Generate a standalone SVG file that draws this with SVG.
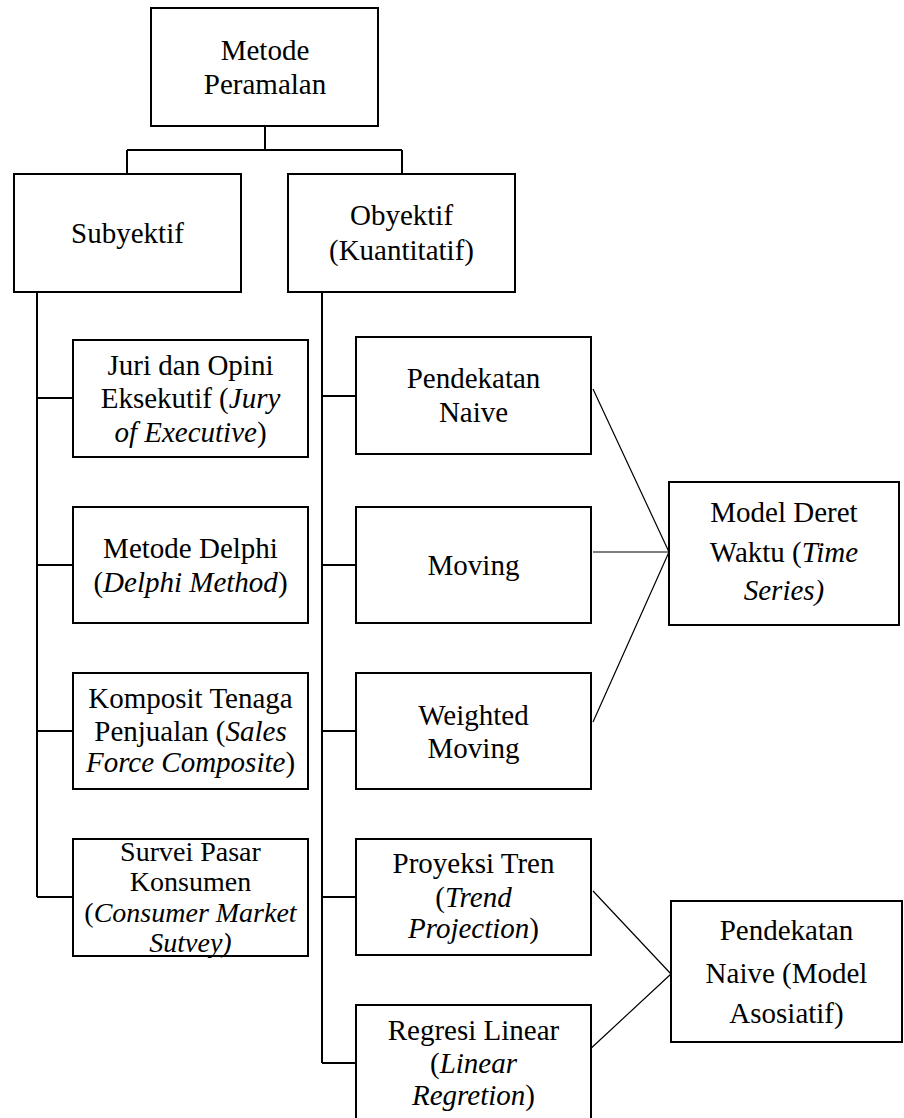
<svg xmlns="http://www.w3.org/2000/svg" width="904" height="1118" viewBox="0 0 904 1118">
<style>
.box{fill:#fff;stroke:#000;stroke-width:2}
.tree{fill:none;stroke:#000;stroke-width:2}
.thin{fill:none;stroke:#000;stroke-width:1.2}
text{font-family:'Liberation Serif','Times New Roman',serif;font-size:29px;fill:#000;text-anchor:middle}
.i{font-style:italic}
.s{font-size:28px}
</style>
<rect width="904" height="1118" fill="#fff"/>
<g id="connectors">
<path class="tree" d="M265,126 V150 M127,150 H402 M127,150 V174 M402,150 V174"/>
<path class="tree" d="M37,292 V897 M37,398 H73 M37,565 H73 M37,731 H73 M37,897 H73"/>
<path class="tree" d="M322,292 V1063 M322,396 H356 M322,565 H356 M322,731 H356 M322,897 H356 M322,1063 H356"/>
<path class="thin" d="M593,389 L669,552 M593,552 H669 M593,722 L669,552"/>
<path class="thin" d="M593,891 L671,974 M587,1052 L671,974"/>
</g>
<g id="n-metode"><rect class="box" x="151" y="8" width="227" height="118"/><text x="265" y="60">Metode</text><text x="265" y="94">Peramalan</text></g>
<g id="n-subyektif"><rect class="box" x="14" y="174" width="227" height="118"/><text x="127.5" y="243">Subyektif</text></g>
<g id="n-obyektif"><rect class="box" x="288" y="174" width="227" height="118"/><text x="401.5" y="225">Obyektif</text><text x="401.5" y="260">(Kuantitatif)</text></g>
<g id="n-juri"><rect class="box" x="73" y="340" width="235" height="117"/><text x="190.5" y="375">Juri dan Opini</text><text x="190.5" y="408">Eksekutif (<tspan class="i">Jury</tspan></text><text x="190.5" y="442"><tspan class="i">of Executive</tspan>)</text></g>
<g id="n-delphi"><rect class="box" x="73" y="507" width="235" height="116"/><text x="190.5" y="558">Metode Delphi</text><text x="190.5" y="592">(<tspan class="i">Delphi Method</tspan>)</text></g>
<g id="n-komposit"><rect class="box" x="73" y="673" width="235" height="116"/><text x="190.5" y="708">Komposit Tenaga</text><text x="190.5" y="741">Penjualan (<tspan class="i">Sales</tspan></text><text x="190.5" y="772"><tspan class="i">Force Composite</tspan>)</text></g>
<g id="n-survei"><rect class="box" x="73" y="839" width="235" height="117"/><text class="s" x="190.5" y="861">Survei Pasar</text><text class="s" x="190.5" y="891">Konsumen</text><text class="s" x="190.5" y="922">(<tspan class="i">Consumer Market</tspan></text><text x="190.5" y="952" class="s i">Sutvey)</text></g>
<g id="n-naive"><rect class="box" x="356" y="337" width="235" height="117"/><text x="473.5" y="388">Pendekatan</text><text x="473.5" y="422">Naive</text></g>
<g id="n-moving"><rect class="box" x="356" y="507" width="235" height="116"/><text x="473.5" y="575">Moving</text></g>
<g id="n-weighted"><rect class="box" x="356" y="673" width="235" height="116"/><text x="473.5" y="725">Weighted</text><text x="473.5" y="758">Moving</text></g>
<g id="n-tren"><rect class="box" x="356" y="839" width="235" height="116"/><text x="473.5" y="873">Proyeksi Tren</text><text x="473.5" y="907">(<tspan class="i">Trend</tspan></text><text x="473.5" y="938"><tspan class="i">Projection</tspan>)</text></g>
<g id="n-regresi"><rect class="box" x="356" y="1005" width="235" height="125"/><text x="473.5" y="1040">Regresi Linear</text><text x="473.5" y="1073">(<tspan class="i">Linear</tspan></text><text x="473.5" y="1105"><tspan class="i">Regretion</tspan>)</text></g>
<g id="n-timeseries"><rect class="box" x="669" y="482" width="230" height="143"/><text x="784" y="522">Model Deret</text><text x="784" y="562">Waktu (<tspan class="i">Time</tspan></text><text x="784" y="600" class="i">Series)</text></g>
<g id="n-asosiatif"><rect class="box" x="671" y="901" width="231" height="141"/><text x="786.5" y="940">Pendekatan</text><text x="786.5" y="983">Naive (Model</text><text x="786.5" y="1023">Asosiatif)</text></g>
</svg>
